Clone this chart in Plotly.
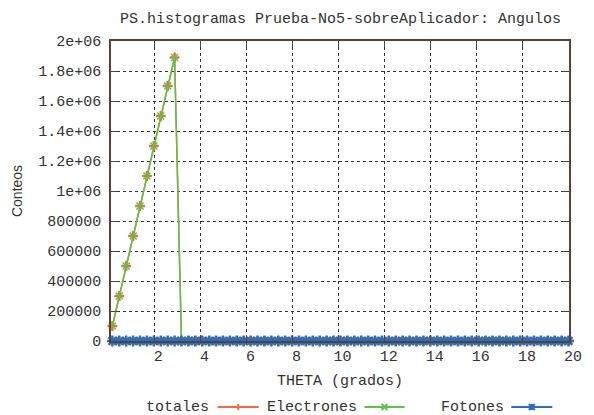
import plotly.graph_objects as go

# Histogram bin centres (degrees)
theta = [0.18, 0.48, 0.78, 1.08, 1.38, 1.68, 1.98, 2.28, 2.58, 2.88,
         3.18, 3.48, 3.78, 4.08, 4.38, 4.68, 4.98, 5.28, 5.58, 5.88,
         6.18, 6.48, 6.78, 7.08, 7.38, 7.68, 7.98, 8.28, 8.58, 8.88,
         9.18, 9.48, 9.78, 10.08, 10.38, 10.68, 10.98, 11.28, 11.58, 11.88,
         12.18, 12.48, 12.78, 13.08, 13.38, 13.68, 13.98, 14.28, 14.58, 14.88,
         15.18, 15.48, 15.78, 16.08, 16.38, 16.68, 16.98, 17.28, 17.58, 17.88,
         18.18, 18.48, 18.78, 19.08, 19.38, 19.68, 19.98]

electrones = [100000, 300000, 500000, 700000, 900000, 1100000, 1300000,
              1500000, 1700000, 1890000] + [0] * 57
fotones = [0] * 67
totales = [e + f for e, f in zip(electrones, fotones)]

x_ticks = [2, 4, 6, 8, 10, 12, 14, 16, 18, 20]
y_ticks = [0, 200000, 400000, 600000, 800000, 1000000, 1200000,
           1400000, 1600000, 1800000, 2000000]
y_labels = ["0", "200000", "400000", "600000", "800000", "1e+06",
            "1.2e+06", "1.4e+06", "1.6e+06", "1.8e+06", "2e+06"]

C_TOT = "#f26a3e"
C_ELE = "#5cc24e"
C_FOT = "#2e6db8"
TXT = "#333333"
BORDER = "#5b4033"
MONO = "Liberation Mono, Courier New, monospace"

# plot area in pixels
L, R, T, B = 111, 579, 41, 341
W, H = 594, 415


def px(xp):
    return (xp - L) / (R - L)


def py(yp):
    return (B - yp) / (B - T)


fig = go.Figure()
fig.add_trace(go.Scatter(x=theta, y=totales, name="totales", mode="lines+markers",
                         line=dict(color=C_TOT, width=1.5),
                         marker=dict(symbol="cross-thin", size=7,
                                     line=dict(color=C_TOT, width=2.5)),
                         cliponaxis=False))
fig.add_trace(go.Scatter(x=theta, y=electrones, name="Electrones", mode="lines+markers",
                         line=dict(color=C_ELE, width=1.5),
                         marker=dict(symbol="x-thin", size=7,
                                     line=dict(color=C_ELE, width=1.5)),
                         cliponaxis=False))
fig.add_trace(go.Scatter(x=theta, y=fotones, name="Fotones", mode="lines+markers",
                         line=dict(color=C_FOT, width=3),
                         marker=dict(symbol="asterisk-open", size=9,
                                     line=dict(color=C_FOT, width=2.5)),
                         cliponaxis=False))

axis_common = dict(
    showline=True, linecolor=BORDER, linewidth=1.5, mirror="ticks",
    ticks="inside", ticklen=6, tickcolor=BORDER,
    showgrid=True, gridcolor="#333333", gridwidth=1, griddash="dot",
    zeroline=False,
    tickfont=dict(family=MONO, size=15, color=TXT),
)

fig.update_xaxes(range=[0.12, 20], tickvals=x_ticks, ticklabelshift=4,
                 ticklabelstandoff=0, **axis_common)
fig.update_yaxes(range=[0, 2000000], tickvals=y_ticks, ticktext=y_labels,
                 ticklabelstandoff=5, **axis_common)

annotations = [
    dict(text="PS.histogramas Prueba-No5-sobreAplicador: Angulos",
         x=px(345), y=py(20), xref="paper", yref="paper",
         xanchor="center", yanchor="middle",
         showarrow=False, font=dict(family=MONO, size=15, color=TXT)),
    dict(text="THETA (grados)", x=px(345), y=py(381), xref="paper", yref="paper",
         xanchor="center", yanchor="middle",
         showarrow=False, font=dict(family=MONO, size=15, color=TXT)),
    dict(text="Conteos", x=px(15), y=py(191), xref="paper", yref="paper",
         xanchor="center", yanchor="middle",
         textangle=-90, showarrow=False,
         font=dict(family="Liberation Sans, Arial, sans-serif", size=14, color=TXT)),
]

shapes = []
legend_items = [
    ("totales", 145, 220, 262, C_TOT, "plus"),
    ("Electrones", 268, 370, 411, C_ELE, "x"),
    ("Fotones", 446, 520, 562, C_FOT, "star"),
]
LY = 407
for name, text_left, x0, x1, col, mk in legend_items:
    annotations.append(dict(text=name, x=px(text_left), y=py(LY), xref="paper",
                            yref="paper", xanchor="left", yanchor="middle",
                            showarrow=False,
                            font=dict(family=MONO, size=15, color=TXT)))
    shapes.append(dict(type="line", xref="paper", yref="paper",
                       x0=px(x0), x1=px(x1), y0=py(LY), y1=py(LY),
                       line=dict(color=col, width=2)))
    cx = (x0 + x1) / 2
    s = 3
    if mk == "plus":
        path = (f"M {px(cx - s)} {py(LY)} L {px(cx + s)} {py(LY)} "
                f"M {px(cx)} {py(LY - s)} L {px(cx)} {py(LY + s)}")
    elif mk == "x":
        path = (f"M {px(cx - s)} {py(LY - s)} L {px(cx + s)} {py(LY + s)} "
                f"M {px(cx - s)} {py(LY + s)} L {px(cx + s)} {py(LY - s)}")
    else:
        path = (f"M {px(cx - s)} {py(LY - s)} L {px(cx + s)} {py(LY + s)} "
                f"M {px(cx - s)} {py(LY + s)} L {px(cx + s)} {py(LY - s)} "
                f"M {px(cx - s)} {py(LY)} L {px(cx + s)} {py(LY)} "
                f"M {px(cx)} {py(LY - s)} L {px(cx)} {py(LY + s)}")
    shapes.append(dict(type="path", xref="paper", yref="paper", path=path,
                       line=dict(color=col, width=2)))

fig.update_layout(
    width=W, height=H,
    margin=dict(l=L, r=W - R, t=T, b=H - B, pad=0),
    paper_bgcolor="white", plot_bgcolor="white",
    showlegend=False,
    annotations=annotations, shapes=shapes,
)

fig.write_html("out.html")
